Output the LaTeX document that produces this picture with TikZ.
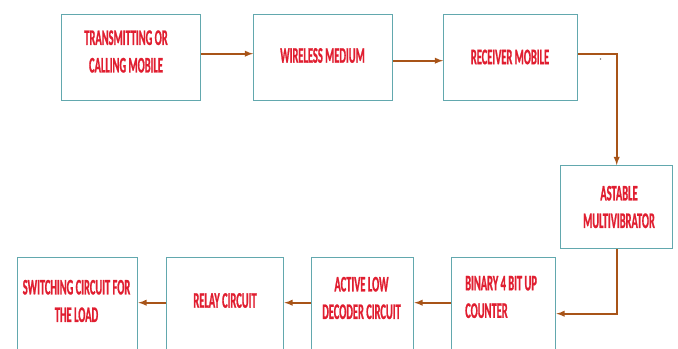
\documentclass[tikz,border=0pt]{standalone}
\usepackage{fontspec}
\usepackage{xcolor}
\usetikzlibrary{arrows}
\definecolor{boxteal}{RGB}{98,168,174}
\definecolor{textred}{RGB}{224,30,48}
\definecolor{wirebrown}{RGB}{168,84,24}
\newfontfamily\blockfont[FakeStretch=0.47, FakeBold=0.8]{Carlito}
\newcommand{\px}{0.03cm}

\begin{document}
\begin{tikzpicture}[x=0.03cm, y=-0.03cm,
  block/.style={draw=boxteal, line width=1.2pt, anchor=north west, inner sep=0pt},
  blocktext/.style={text=textred, font=\blockfont\bfseries\fontsize{19}{23.5}\selectfont, align=center, inner sep=0pt},
  wire/.style={-latex, draw=wirebrown, line width=1.4pt}]
\useasboundingbox (0,0) rectangle (678,349);
\clip (0,0) rectangle (678,349);

% top row
\node[block, minimum width=139*\px, minimum height=86*\px] (tx) at (61,14) {};
\node[block, minimum width=139*\px, minimum height=86*\px] (wm) at (253,14) {};
\node[block, minimum width=134*\px, minimum height=86*\px] (rx) at (443,14) {};
\node[block, minimum width=112*\px, minimum height=83*\px] (ast) at (560,165) {};

% bottom row, runs off the page
\node[block, minimum width=104*\px, minimum height=120*\px] (bin) at (451,257) {};
\node[block, minimum width=102*\px, minimum height=120*\px] (act) at (311,257) {};
\node[block, minimum width=117*\px, minimum height=120*\px] (rel) at (166,257) {};
\node[block, minimum width=120*\px, minimum height=120*\px] (sw) at (17,257) {};

\node[blocktext] (txt-tx) at (126,51.5) {TRANSMITTING OR\\CALLING MOBILE};
\node[blocktext] (txt-wm) at (322.5,55.5) {WIRELESS MEDIUM};
\node[blocktext] (txt-rx) at (510,57) {RECEIVER MOBILE};
\node[blocktext] (txt-ast) at (619,207) {ASTABLE\\MULTIVIBRATOR};
\node[blocktext, align=left, anchor=west] (txt-bin) at (465,297) {BINARY 4 BIT UP\\COUNTER};
\node[blocktext] (txt-act) at (361.5,298) {ACTIVE LOW\\DECODER CIRCUIT};
\node[blocktext] (txt-rel) at (225,300.5) {RELAY CIRCUIT};
\node[blocktext] (txt-sw) at (76.5,301) {SWITCHING CIRCUIT FOR\\THE LOAD};

\fill[gray] (600.5,59) circle (0.7pt);

\draw[wire] ([yshift=4*\px]tx.east) -- ([yshift=4*\px]wm.west);
\draw[wire] ([yshift=-3*\px]wm.east) -- ([yshift=-3*\px]rx.west);
\draw[wire] ([yshift=4*\px]rx.east) -| (ast.north);
\draw[wire] (ast.south) |- ([yshift=4*\px]bin.east);
\draw[wire] ([yshift=15*\px]bin.west) -- ([yshift=15*\px]act.east);
\draw[wire] ([yshift=15*\px]act.west) -- ([yshift=15*\px]rel.east);
\draw[wire] ([yshift=15*\px]rel.west) -- ([yshift=15*\px]sw.east);
\end{tikzpicture}
\end{document}
